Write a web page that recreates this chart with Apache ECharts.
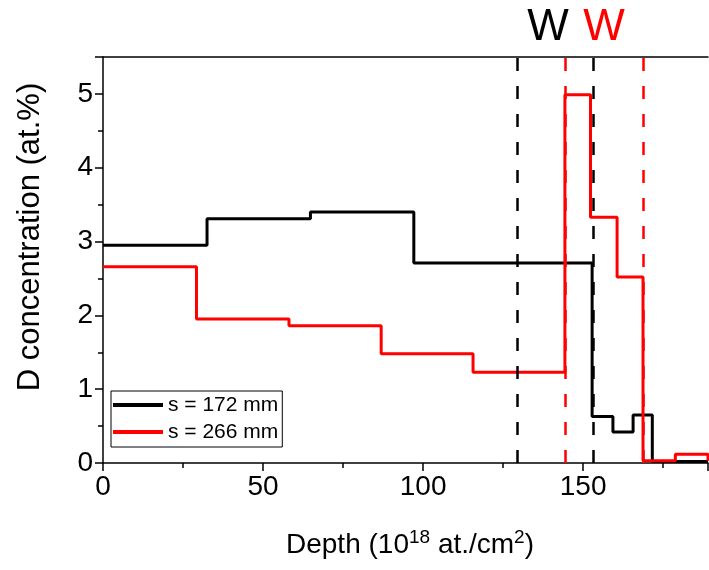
<!DOCTYPE html>
<html>
<head>
<meta charset="utf-8">
<script src="https://cdn.jsdelivr.net/npm/echarts@6/dist/echarts.min.js"></script>
<style>html,body{margin:0;padding:0;background:#fff}#c{width:709px;height:570px}</style>
</head>
<body>
<div id="c"></div>
<script>
// ---- data ----
const xTicks = [0, 50, 100, 150];
const yTicks = [0, 1, 2, 3, 4, 5];
const blackName = 's = 172 mm';
const redName = 's = 266 mm';
const blackEdges = [0, 32.5, 64.8, 97.1, 152.8, 159.3, 165.6, 171.6, 189];
const blackValues = [2.95, 3.31, 3.40, 2.71, 0.63, 0.42, 0.65, 0.02];
const redEdges = [0, 29.2, 58.1, 86.9, 115.6, 144.3, 152.3, 160.6, 168.7, 178.8, 189];
const redValues = [2.66, 1.95, 1.86, 1.48, 1.23, 4.99, 3.33, 2.52, 0.03, 0.12];
const redEndValue = 0.03;
const blackDashX = [129.4, 153.3];
const redDashX = [144.5, 168.7];
const wLabels = ['W', 'W'];

function stepData(edges, values, endValue) {
  const d = [];
  for (let i = 0; i < values.length; i++) d.push([edges[i], values[i]]);
  d.push([edges[edges.length - 1], values[values.length - 1]]);
  if (endValue !== undefined) d.push([edges[edges.length - 1], endValue]);
  return d;
}

const FONT = '"Liberation Sans", Arial, sans-serif';
const chart = echarts.init(document.getElementById('c'), null, {renderer: 'canvas'});

const dashStyle = (color) => ({type: [13, 15], width: 2.5, color: color});

chart.setOption({
  animation: false,
  backgroundColor: '#fff',
  grid: {left: 103, top: 57, right: 1, bottom: 107, containLabel: false},
  xAxis: [{
    type: 'value', min: 0, max: 189, interval: 50,
    axisLine: {show: true, onZero: false, lineStyle: {color: '#000', width: 1.5}},
    axisTick: {show: true, inside: false, length: 8, lineStyle: {color: '#000', width: 1.5}},
    minorTick: {show: true, splitNumber: 2, length: 5, lineStyle: {color: '#000', width: 1.5}},
    splitLine: {show: false},
    axisLabel: {show: true, color: '#000', fontSize: 28, fontFamily: FONT, margin: 10, showMaxLabel: false,
      formatter: (v) => xTicks.indexOf(v) >= 0 ? String(v) : ''}
  }, {
    type: 'value', min: 0, max: 189, position: 'top',
    axisLine: {show: true, onZero: false, lineStyle: {color: '#000', width: 1.5}},
    axisTick: {show: false}, axisLabel: {show: false}, splitLine: {show: false}
  }],
  yAxis: {
    type: 'value', min: 0, max: 5.5, interval: 1,
    axisLine: {show: true, onZero: false, lineStyle: {color: '#000', width: 1.5}},
    axisTick: {show: true, inside: false, length: 8, lineStyle: {color: '#000', width: 1.5}},
    minorTick: {show: true, splitNumber: 2, length: 5, lineStyle: {color: '#000', width: 1.5}},
    splitLine: {show: false},
    axisLabel: {show: true, color: '#000', fontSize: 28, fontFamily: FONT, margin: 10, showMaxLabel: false,
      formatter: (v) => yTicks.indexOf(v) >= 0 ? String(v) : ''}
  },
  legend: {
    orient: 'vertical', left: 111, top: 391,
    data: [blackName, redName],
    icon: 'rect', itemWidth: 50, itemHeight: 4, itemGap: 5,
    padding: [3, 4, 4, 2],
    borderColor: '#000', borderWidth: 1, backgroundColor: '#fff',
    textStyle: {color: '#000', fontSize: 21, fontFamily: FONT, lineHeight: 22}
  },
  graphic: [
    {type: 'text', left: null, x: 548, y: 28, style: {text: wLabels[0], fill: '#000', font: '44px ' + FONT, align: 'center', verticalAlign: 'middle'}},
    {type: 'text', x: 604, y: 28, style: {text: wLabels[1], fill: '#ff0000', font: '44px ' + FONT, align: 'center', verticalAlign: 'middle'}},
    {type: 'text', x: 30, y: 237, rotation: Math.PI / 2, style: {text: 'D concentration (at.%)', fill: '#000', font: '31px ' + FONT, align: 'center', verticalAlign: 'middle'}},
    {type: 'text', x: 410, y: 545, style: {
      text: '{a|Depth (10}{s|18}{a| at./cm}{s|2}{a|)}', fill: '#000', align: 'center', verticalAlign: 'middle',
      rich: {
        a: {fontSize: 28, fontFamily: FONT, fill: '#000', lineHeight: 34},
        s: {fontSize: 19, fontFamily: FONT, fill: '#000', verticalAlign: 'top', lineHeight: 20}
      }
    }}
  ],
  series: [{
    name: blackName, type: 'line', step: 'end', showSymbol: false, symbol: 'none',
    data: stepData(blackEdges, blackValues),
    lineStyle: {color: '#000', width: 3}, itemStyle: {color: '#000'}, z: 2,
    markLine: {silent: true, symbol: ['none', 'none'], label: {show: false}, z: 5,
      lineStyle: dashStyle('#000'), data: blackDashX.map(v => ({xAxis: v}))}
  }, {
    name: redName, type: 'line', step: 'end', showSymbol: false, symbol: 'none',
    data: stepData(redEdges, redValues, redEndValue),
    lineStyle: {color: '#ff0000', width: 3}, itemStyle: {color: '#ff0000'}, z: 3,
    markLine: {silent: true, symbol: ['none', 'none'], label: {show: false}, z: 4,
      lineStyle: dashStyle('#ff0000'), data: redDashX.map(v => ({xAxis: v}))}
  }]
});
</script>
</body>
</html>
